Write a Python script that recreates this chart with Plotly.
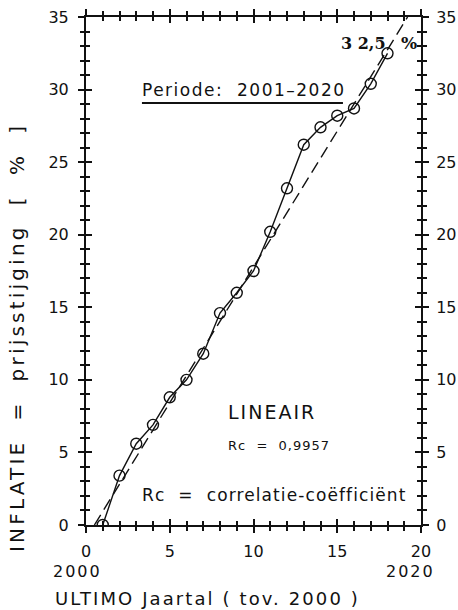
import plotly.graph_objects as go

# ---- data ----
jaar = [1, 2, 3, 4, 5, 6, 7, 8, 9, 10, 11, 12, 13, 14, 15, 16, 17, 18]
inflatie = [0.0, 3.4, 5.6, 6.9, 8.8, 10.0, 11.8, 14.6, 16.0, 17.5,
            20.2, 23.2, 26.2, 27.4, 28.2, 28.7, 30.4, 32.5]
trend_x = [0.5, 19.2]
trend_y = [0.0, 35.0]
x_ticks = [0, 5, 10, 15, 20]
x_ticktext = ["0", "5", "10", "15", "20"]
y_ticks = [0, 5, 10, 15, 20, 25, 30, 35]

FONT = "DejaVu Sans"
BLACK = "#111111"


def spaced(txt, ls):
    return f'<span style="letter-spacing:{ls}px">{txt}</span>'


fig = go.Figure()

fig.add_trace(go.Scatter(
    x=trend_x, y=trend_y, mode="lines",
    line=dict(color=BLACK, width=1.4, dash="12px,6px"),
    hoverinfo="skip", showlegend=False))

fig.add_trace(go.Scatter(
    x=jaar, y=inflatie, mode="lines+markers",
    line=dict(color=BLACK, width=1.4),
    marker=dict(symbol="circle-open", size=11, color=BLACK,
                line=dict(width=1.4, color=BLACK)),
    showlegend=False))

# dummy traces so the overlay axes (inside ticks) are drawn
fig.add_trace(go.Scatter(x=[None], y=[None], xaxis="x2", yaxis="y3",
                         showlegend=False, hoverinfo="skip"))
fig.add_trace(go.Scatter(x=[None], y=[None], xaxis="x", yaxis="y2",
                         showlegend=False, hoverinfo="skip"))

xr = [0, 20]
yr = [0, 35]

common_tick = dict(tickcolor=BLACK, tickwidth=1.5, linecolor=BLACK, linewidth=2,
                   showgrid=False, zeroline=False, automargin=False)
minor_out = dict(dtick=1, ticks="outside", ticklen=4, tickcolor=BLACK, tickwidth=1.5)
minor_in = dict(dtick=1, ticks="inside", ticklen=4, tickcolor=BLACK, tickwidth=1.5)

fig.update_layout(
    width=458, height=610,
    margin=dict(l=86, r=37, t=17, b=85, autoexpand=False),
    paper_bgcolor="white", plot_bgcolor="white",
    font=dict(family=FONT, color=BLACK, size=14),
    xaxis=dict(range=xr, tickvals=x_ticks, ticktext=x_ticktext,
               ticks="outside", ticklen=6, showline=True, mirror="ticks",
               minor=minor_out, tickfont=dict(size=16), ticklabelstandoff=5,
               **common_tick),
    xaxis2=dict(range=xr, overlaying="x", side="bottom", tickvals=x_ticks,
                ticks="inside", ticklen=6, showline=False, mirror="ticks",
                showticklabels=False, minor=minor_in, **common_tick),
    yaxis=dict(range=yr, tickvals=y_ticks, ticks="outside", ticklen=6,
               showline=True, side="left", minor=minor_out,
               tickfont=dict(size=16), ticklabelstandoff=6, **common_tick),
    yaxis2=dict(range=yr, tickvals=y_ticks, ticks="outside", ticklen=6,
                showline=True, side="right", overlaying="y", minor=minor_out,
                tickfont=dict(size=16), ticklabelstandoff=4, **common_tick),
    yaxis3=dict(range=yr, tickvals=y_ticks, ticks="inside", ticklen=6,
                showline=False, side="left", overlaying="y", mirror="ticks",
                showticklabels=False, minor=minor_in, **common_tick),
)

ann = []
# year labels under 0 and 20
ann.append(dict(text=spaced("2000", 2), x=0, y=0, xref="x", yref="paper",
                xanchor="left", yanchor="top", xshift=-35, yshift=-35,
                showarrow=False, font=dict(size=16)))
ann.append(dict(text=spaced("2020", 2), x=20, y=0, xref="x", yref="paper",
                xanchor="right", yanchor="top", xshift=16, yshift=-35,
                showarrow=False, font=dict(size=16)))
# x-axis title
ann.append(dict(text=spaced("ULTIMO Jaartal ( tov. 2000 )", 2.1), x=-0.1, y=0,
                xref="paper", yref="paper", xanchor="left", yanchor="top",
                yshift=-61, showarrow=False, font=dict(size=18)))
# y-axis title
ann.append(dict(text=spaced("INFLATIE  =  prijsstijging  [  %  ]", 3.2),
                x=-0.206, y=0.37, xref="paper", yref="paper", xanchor="center",
                yanchor="middle", textangle=-90, showarrow=False,
                font=dict(size=20)))
# inner texts
ann.append(dict(text=spaced("Periode:  2001–2020", 1.5), x=3.2, y=30.0,
                xref="x", yref="y", xanchor="left", yanchor="middle",
                showarrow=False, font=dict(size=17)))
ann.append(dict(text="<b>3 2,5</b>", x=15.1, y=33.2, xref="x", yref="y",
                xanchor="left", yanchor="middle", showarrow=False,
                font=dict(size=16, family="DejaVu Serif")))
ann.append(dict(text="<b>%</b>", x=19.3, y=33.2, xref="x", yref="y",
                xanchor="center", yanchor="middle", showarrow=False,
                font=dict(size=17, family="DejaVu Serif")))
ann.append(dict(text=spaced("LINEAIR", 2), x=11.1, y=7.8, xref="x", yref="y",
                xanchor="center", yanchor="middle", showarrow=False,
                font=dict(size=19)))
ann.append(dict(text=spaced("Rc  =  0,9957", 1), x=11.5, y=5.5, xref="x",
                yref="y", xanchor="center", yanchor="middle", showarrow=False,
                font=dict(size=13)))
ann.append(dict(text=spaced("Rc  =  correlatie-coëfficiënt", 1.1), x=11.25,
                y=2.07, xref="x", yref="y", xanchor="center", yanchor="middle",
                showarrow=False, font=dict(size=17)))
fig.update_layout(annotations=ann)

# underline of the period label
fig.add_shape(type="line", x0=3.34, x1=15.34, y0=29.08, y1=29.08,
              xref="x", yref="y", line=dict(color=BLACK, width=2))

fig.write_html("out.html")
